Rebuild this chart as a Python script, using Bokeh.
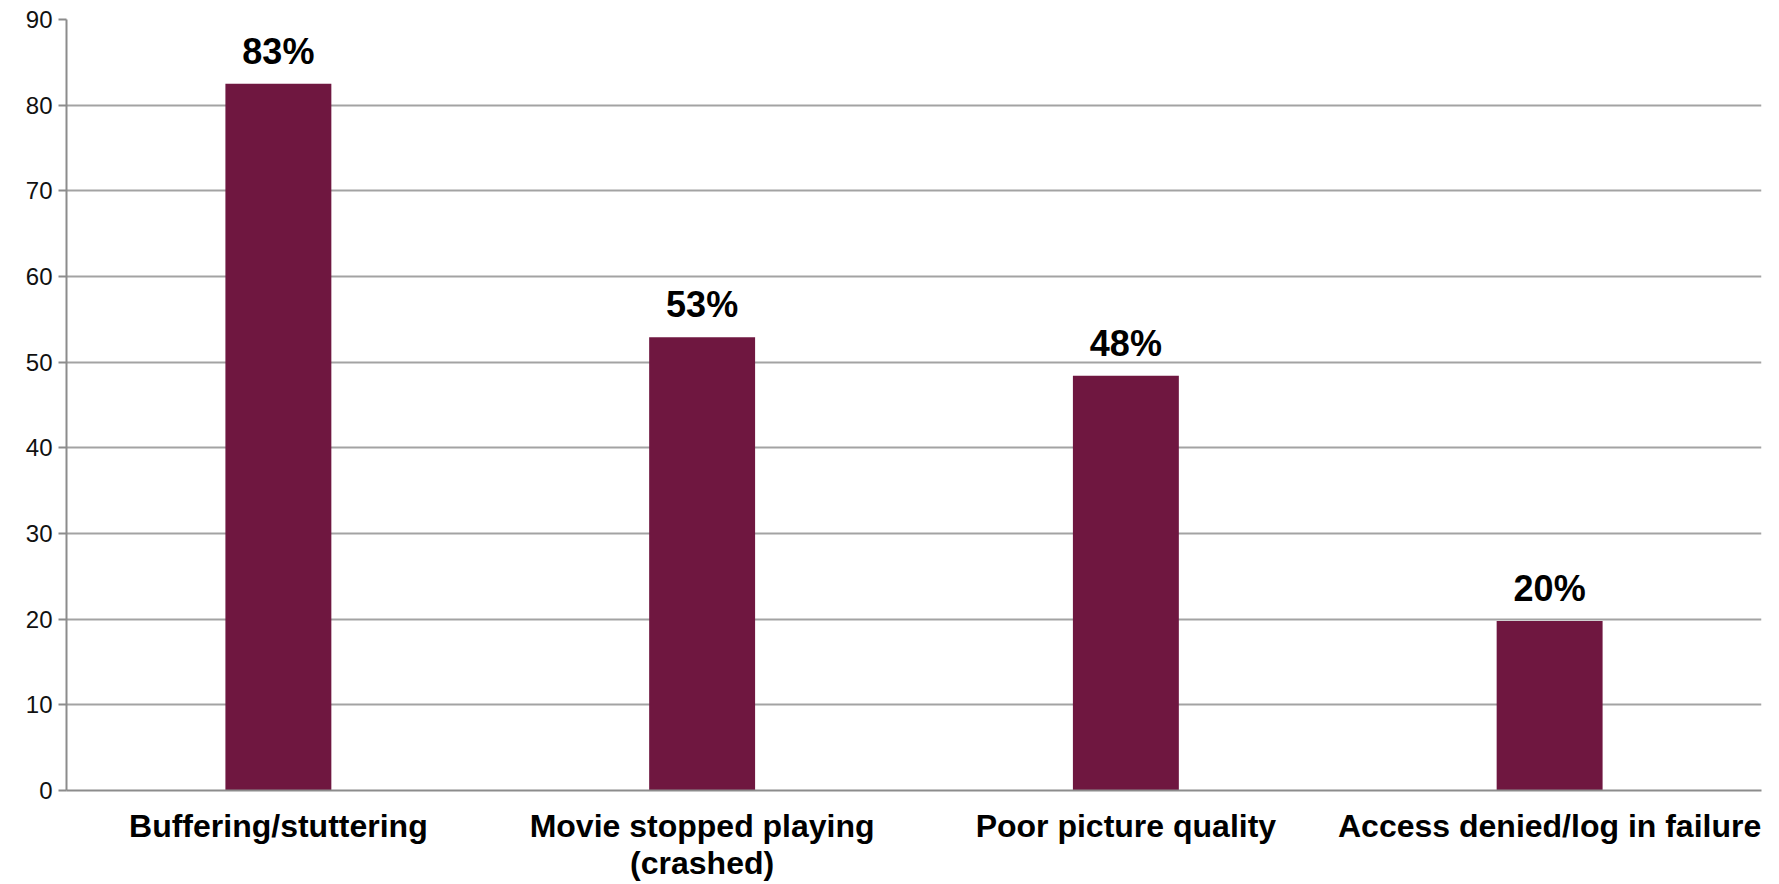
from bokeh.plotting import figure
from bokeh.models import (ColumnDataSource, Range1d, SingleIntervalTicker, FixedTicker,
                          LabelSet)
from bokeh.core.properties import value
from bokeh.embed import file_html
from bokeh.resources import INLINE

categories = ["Buffering/stuttering", "Movie stopped playing\n(crashed)",
              "Poor picture quality", "Access denied/log in failure"]
values = [82.5, 52.9, 48.4, 19.8]
pct_labels = ["83%", "53%", "48%", "20%"]

FONT = "Liberation Sans"
BAR = "#6F1740"

xpos = list(range(len(categories)))
src = ColumnDataSource(dict(x=xpos, val=values, lab=pct_labels))

p = figure(x_range=Range1d(-0.5, len(categories) - 0.5),
           y_range=Range1d(0, 90),
           width=1771, height=884,
           output_backend="svg", toolbar_location=None,
           min_border_left=66, min_border_top=19, min_border_right=10,
           min_border_bottom=94)

p.vbar(x="x", top="val", width=0.25, source=src, fill_color=BAR, line_color=None)

p.add_layout(LabelSet(x="x", y="val", text="lab", source=src, y_offset=20,
                      text_align="center", text_baseline="alphabetic",
                      text_font=value(FONT), text_font_size="36px", text_font_style="bold",
                      text_color="black"))

p.outline_line_color = None
p.xgrid.grid_line_color = None
p.ygrid.grid_line_color = "#a3a3a3"
p.ygrid.grid_line_width = 2
p.yaxis.ticker = SingleIntervalTicker(interval=10)
p.yaxis.minor_tick_line_color = None
p.yaxis.major_tick_in = 0
p.yaxis.major_tick_out = 8
p.yaxis.major_tick_line_color = "#8c8c8c"
p.yaxis.major_tick_line_width = 2
p.yaxis.axis_line_color = "#8c8c8c"
p.yaxis.axis_line_width = 2
p.yaxis.major_label_text_font = FONT
p.yaxis.major_label_text_font_size = "24px"
p.yaxis.major_label_text_color = "#111111"
p.yaxis.major_label_standoff = 6

xa = p.xaxis[0]
xa.ticker = FixedTicker(ticks=xpos, minor_ticks=[])
xa.axis_line_color = "#8c8c8c"
xa.axis_line_width = 2
xa.major_tick_line_color = None
xa.minor_tick_line_color = None
xa.major_tick_out = 0
xa.major_tick_in = 0
xa.major_label_standoff = 17
xa.major_label_text_font = FONT
xa.major_label_text_font_size = "32px"
xa.major_label_text_font_style = "bold"
xa.major_label_text_color = "black"
xa.major_label_text_line_height = 1.05
xa.major_label_overrides = {i: c for i, c in zip(xpos, categories)}

open("out.html", "w").write(file_html(p, INLINE))
